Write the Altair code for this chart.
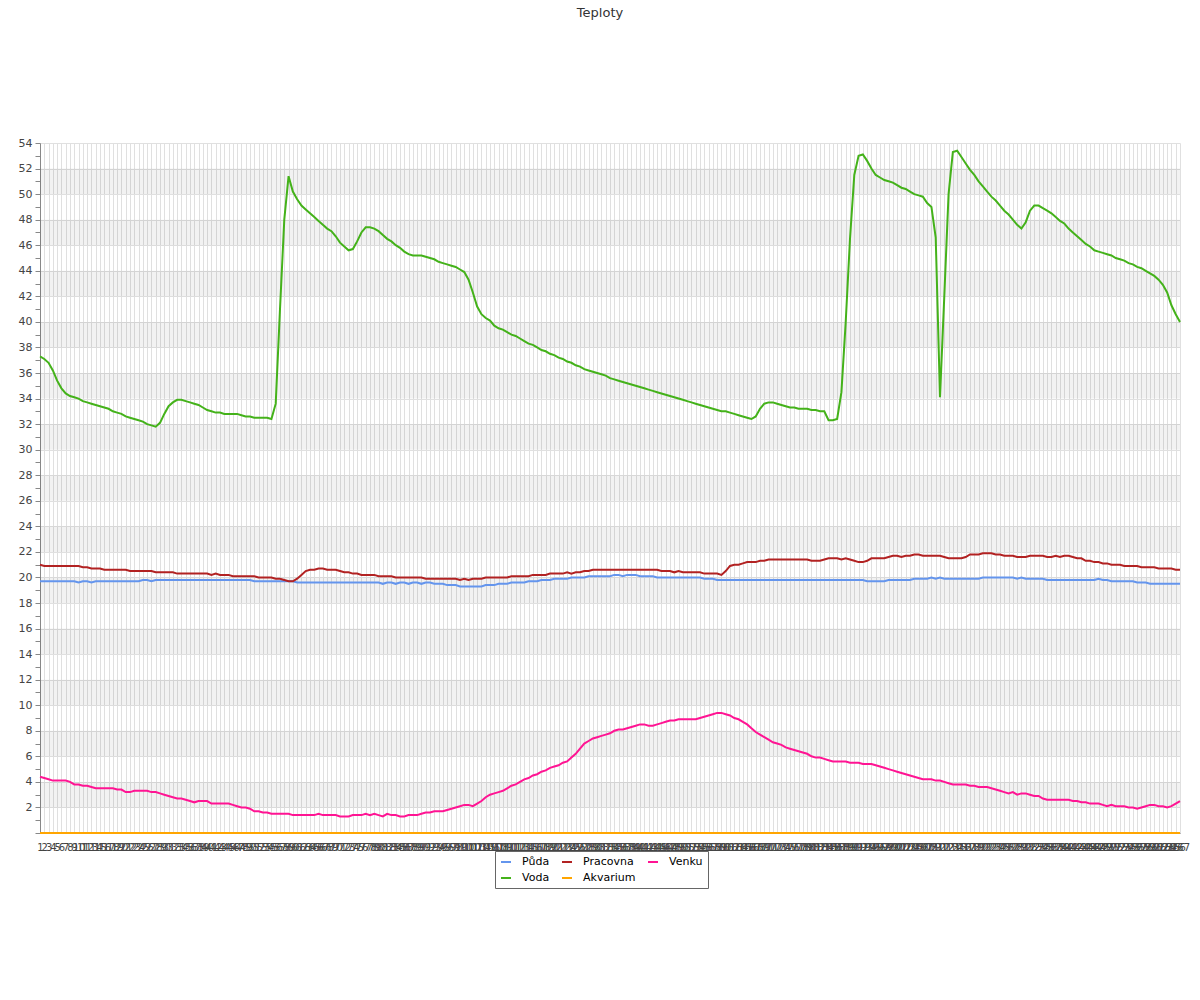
import altair as alt
import pandas as pd

series_names = ["Půda", "Voda", "Pracovna", "Akvarium", "Venku"]
legend_order = ["Půda", "Voda", "Pracovna", "Akvarium", "Venku"]
series_colors = {"Půda": "#6495ed", "Voda": "#44b21a", "Pracovna": "#b22222",
                 "Akvarium": "#ffa500", "Venku": "#ff1493"}

puda = [
    19.7, 19.7, 19.7, 19.7, 19.7, 19.7, 19.7, 19.7, 19.7, 19.6,
    19.7, 19.7, 19.6, 19.7, 19.7, 19.7, 19.7, 19.7, 19.7, 19.7,
    19.7, 19.7, 19.7, 19.7, 19.8, 19.8, 19.7, 19.8, 19.8, 19.8,
    19.8, 19.8, 19.8, 19.8, 19.8, 19.8, 19.8, 19.8, 19.8, 19.8,
    19.8, 19.8, 19.8, 19.8, 19.8, 19.8, 19.8, 19.8, 19.8, 19.8,
    19.7, 19.7, 19.7, 19.7, 19.7, 19.7, 19.7, 19.7, 19.7, 19.7,
    19.6, 19.6, 19.6, 19.6, 19.6, 19.6, 19.6, 19.6, 19.6, 19.6,
    19.6, 19.6, 19.6, 19.6, 19.6, 19.6, 19.6, 19.6, 19.6, 19.6,
    19.5, 19.6, 19.6, 19.5, 19.6, 19.6, 19.5, 19.6, 19.6, 19.5,
    19.6, 19.6, 19.5, 19.5, 19.5, 19.4, 19.4, 19.4, 19.3, 19.3,
    19.3, 19.3, 19.3, 19.3, 19.4, 19.4, 19.4, 19.5, 19.5, 19.5,
    19.6, 19.6, 19.6, 19.6, 19.7, 19.7, 19.7, 19.8, 19.8, 19.8,
    19.9, 19.9, 19.9, 19.9, 20.0, 20.0, 20.0, 20.0, 20.1, 20.1,
    20.1, 20.1, 20.1, 20.1, 20.2, 20.2, 20.1, 20.2, 20.2, 20.2,
    20.1, 20.1, 20.1, 20.1, 20.0, 20.0, 20.0, 20.0, 20.0, 20.0,
    20.0, 20.0, 20.0, 20.0, 20.0, 19.9, 19.9, 19.9, 19.8, 19.8,
    19.8, 19.8, 19.8, 19.8, 19.8, 19.8, 19.8, 19.8, 19.8, 19.8,
    19.8, 19.8, 19.8, 19.8, 19.8, 19.8, 19.8, 19.8, 19.8, 19.8,
    19.8, 19.8, 19.8, 19.8, 19.8, 19.8, 19.8, 19.8, 19.8, 19.8,
    19.8, 19.8, 19.8, 19.7, 19.7, 19.7, 19.7, 19.7, 19.8, 19.8,
    19.8, 19.8, 19.8, 19.8, 19.9, 19.9, 19.9, 19.9, 20.0, 19.9,
    20.0, 19.9, 19.9, 19.9, 19.9, 19.9, 19.9, 19.9, 19.9, 19.9,
    20.0, 20.0, 20.0, 20.0, 20.0, 20.0, 20.0, 20.0, 19.9, 20.0,
    19.9, 19.9, 19.9, 19.9, 19.9, 19.8, 19.8, 19.8, 19.8, 19.8,
    19.8, 19.8, 19.8, 19.8, 19.8, 19.8, 19.8, 19.9, 19.8, 19.8,
    19.7, 19.7, 19.7, 19.7, 19.7, 19.7, 19.6, 19.6, 19.6, 19.5,
    19.5, 19.5, 19.5, 19.5, 19.5, 19.5, 19.5,
]

voda = [
    37.3, 37.1, 36.8, 36.2, 35.4, 34.8, 34.4, 34.2, 34.1, 34.0,
    33.8, 33.7, 33.6, 33.5, 33.4, 33.3, 33.2, 33.0, 32.9, 32.8,
    32.6, 32.5, 32.4, 32.3, 32.2, 32.0, 31.9, 31.8, 32.1, 32.8,
    33.4, 33.7, 33.9, 33.9, 33.8, 33.7, 33.6, 33.5, 33.3, 33.1,
    33.0, 32.9, 32.9, 32.8, 32.8, 32.8, 32.8, 32.7, 32.6, 32.6,
    32.5, 32.5, 32.5, 32.5, 32.4, 33.6, 41.0, 48.0, 51.4, 50.2,
    49.6, 49.1, 48.8, 48.5, 48.2, 47.9, 47.6, 47.3, 47.1, 46.7,
    46.2, 45.9, 45.6, 45.7, 46.3, 47.0, 47.4, 47.4, 47.3, 47.1,
    46.8, 46.5, 46.3, 46.0, 45.8, 45.5, 45.3, 45.2, 45.2, 45.2,
    45.1, 45.0, 44.9, 44.7, 44.6, 44.5, 44.4, 44.3, 44.1, 43.9,
    43.3, 42.3, 41.2, 40.6, 40.3, 40.1, 39.7, 39.5, 39.4, 39.2,
    39.0, 38.9, 38.7, 38.5, 38.3, 38.2, 38.0, 37.8, 37.7, 37.5,
    37.4, 37.2, 37.1, 36.9, 36.8, 36.6, 36.5, 36.3, 36.2, 36.1,
    36.0, 35.9, 35.8, 35.6, 35.5, 35.4, 35.3, 35.2, 35.1, 35.0,
    34.9, 34.8, 34.7, 34.6, 34.5, 34.4, 34.3, 34.2, 34.1, 34.0,
    33.9, 33.8, 33.7, 33.6, 33.5, 33.4, 33.3, 33.2, 33.1, 33.0,
    33.0, 32.9, 32.8, 32.7, 32.6, 32.5, 32.4, 32.6, 33.2, 33.6,
    33.7, 33.7, 33.6, 33.5, 33.4, 33.3, 33.3, 33.2, 33.2, 33.2,
    33.1, 33.1, 33.0, 33.0, 32.3, 32.3, 32.4, 34.5, 40.0, 46.5,
    51.5, 53.0, 53.1, 52.6, 52.0, 51.5, 51.3, 51.1, 51.0, 50.9,
    50.7, 50.5, 50.4, 50.2, 50.0, 49.9, 49.8, 49.3, 49.0, 46.6,
    34.1, 42.0, 50.0, 53.3, 53.4, 52.9, 52.4, 51.9, 51.5, 51.0,
    50.6, 50.2, 49.8, 49.5, 49.1, 48.7, 48.4, 48.0, 47.6, 47.3,
    47.8, 48.7, 49.1, 49.1, 48.9, 48.7, 48.5, 48.2, 47.9, 47.7,
    47.3, 47.0, 46.7, 46.4, 46.1, 45.9, 45.6, 45.5, 45.4, 45.3,
    45.2, 45.0, 44.9, 44.8, 44.6, 44.5, 44.3, 44.2, 44.0, 43.8,
    43.6, 43.3, 42.9, 42.3, 41.3, 40.6, 40.0,
]

pracovna = [
    21.0, 20.9, 20.9, 20.9, 20.9, 20.9, 20.9, 20.9, 20.9, 20.9,
    20.8, 20.8, 20.7, 20.7, 20.7, 20.6, 20.6, 20.6, 20.6, 20.6,
    20.6, 20.5, 20.5, 20.5, 20.5, 20.5, 20.5, 20.4, 20.4, 20.4,
    20.4, 20.4, 20.3, 20.3, 20.3, 20.3, 20.3, 20.3, 20.3, 20.3,
    20.2, 20.3, 20.2, 20.2, 20.2, 20.1, 20.1, 20.1, 20.1, 20.1,
    20.1, 20.0, 20.0, 20.0, 20.0, 19.9, 19.9, 19.8, 19.7, 19.7,
    19.9, 20.2, 20.5, 20.6, 20.6, 20.7, 20.7, 20.6, 20.6, 20.6,
    20.5, 20.4, 20.4, 20.3, 20.3, 20.2, 20.2, 20.2, 20.2, 20.1,
    20.1, 20.1, 20.1, 20.0, 20.0, 20.0, 20.0, 20.0, 20.0, 20.0,
    19.9, 19.9, 19.9, 19.9, 19.9, 19.9, 19.9, 19.9, 19.8, 19.9,
    19.8, 19.9, 19.9, 19.9, 20.0, 20.0, 20.0, 20.0, 20.0, 20.0,
    20.1, 20.1, 20.1, 20.1, 20.1, 20.2, 20.2, 20.2, 20.2, 20.3,
    20.3, 20.3, 20.3, 20.4, 20.3, 20.4, 20.4, 20.5, 20.5, 20.6,
    20.6, 20.6, 20.6, 20.6, 20.6, 20.6, 20.6, 20.6, 20.6, 20.6,
    20.6, 20.6, 20.6, 20.6, 20.6, 20.5, 20.5, 20.5, 20.4, 20.5,
    20.4, 20.4, 20.4, 20.4, 20.4, 20.3, 20.3, 20.3, 20.3, 20.2,
    20.5, 20.9, 21.0, 21.0, 21.1, 21.2, 21.2, 21.2, 21.3, 21.3,
    21.4, 21.4, 21.4, 21.4, 21.4, 21.4, 21.4, 21.4, 21.4, 21.4,
    21.3, 21.3, 21.3, 21.4, 21.5, 21.5, 21.5, 21.4, 21.5, 21.4,
    21.3, 21.2, 21.2, 21.3, 21.5, 21.5, 21.5, 21.5, 21.6, 21.7,
    21.7, 21.6, 21.7, 21.7, 21.8, 21.8, 21.7, 21.7, 21.7, 21.7,
    21.7, 21.6, 21.5, 21.5, 21.5, 21.5, 21.6, 21.8, 21.8, 21.8,
    21.9, 21.9, 21.9, 21.8, 21.8, 21.7, 21.7, 21.7, 21.6, 21.6,
    21.6, 21.7, 21.7, 21.7, 21.7, 21.6, 21.6, 21.7, 21.6, 21.7,
    21.7, 21.6, 21.5, 21.5, 21.3, 21.3, 21.2, 21.2, 21.1, 21.1,
    21.0, 21.0, 21.0, 20.9, 20.9, 20.9, 20.9, 20.8, 20.8, 20.8,
    20.8, 20.7, 20.7, 20.7, 20.7, 20.6, 20.6,
]

akvarium = [
    0, 0, 0, 0, 0, 0, 0, 0, 0, 0, 0, 0, 0, 0, 0, 0, 0, 0, 0, 0,
    0, 0, 0, 0, 0, 0, 0, 0, 0, 0, 0, 0, 0, 0, 0, 0, 0, 0, 0, 0,
    0, 0, 0, 0, 0, 0, 0, 0, 0, 0, 0, 0, 0, 0, 0, 0, 0, 0, 0, 0,
    0, 0, 0, 0, 0, 0, 0, 0, 0, 0, 0, 0, 0, 0, 0, 0, 0, 0, 0, 0,
    0, 0, 0, 0, 0, 0, 0, 0, 0, 0, 0, 0, 0, 0, 0, 0, 0, 0, 0, 0,
    0, 0, 0, 0, 0, 0, 0, 0, 0, 0, 0, 0, 0, 0, 0, 0, 0, 0, 0, 0,
    0, 0, 0, 0, 0, 0, 0, 0, 0, 0, 0, 0, 0, 0, 0, 0, 0, 0, 0, 0,
    0, 0, 0, 0, 0, 0, 0, 0, 0, 0, 0, 0, 0, 0, 0, 0, 0, 0, 0, 0,
    0, 0, 0, 0, 0, 0, 0, 0, 0, 0, 0, 0, 0, 0, 0, 0, 0, 0, 0, 0,
    0, 0, 0, 0, 0, 0, 0, 0, 0, 0, 0, 0, 0, 0, 0, 0, 0, 0, 0, 0,
    0, 0, 0, 0, 0, 0, 0, 0, 0, 0, 0, 0, 0, 0, 0, 0, 0, 0, 0, 0,
    0, 0, 0, 0, 0, 0, 0, 0, 0, 0, 0, 0, 0, 0, 0, 0, 0, 0, 0, 0,
    0, 0, 0, 0, 0, 0, 0, 0, 0, 0, 0, 0, 0, 0, 0, 0, 0, 0, 0, 0,
    0, 0, 0, 0, 0, 0, 0,
]

venku = [
    4.4, 4.3, 4.2, 4.1, 4.1, 4.1, 4.1, 4.0, 3.8, 3.8,
    3.7, 3.7, 3.6, 3.5, 3.5, 3.5, 3.5, 3.5, 3.4, 3.4,
    3.2, 3.2, 3.3, 3.3, 3.3, 3.3, 3.2, 3.2, 3.1, 3.0,
    2.9, 2.8, 2.7, 2.7, 2.6, 2.5, 2.4, 2.5, 2.5, 2.5,
    2.3, 2.3, 2.3, 2.3, 2.3, 2.2, 2.1, 2.0, 2.0, 1.9,
    1.7, 1.7, 1.6, 1.6, 1.5, 1.5, 1.5, 1.5, 1.5, 1.4,
    1.4, 1.4, 1.4, 1.4, 1.4, 1.5, 1.4, 1.4, 1.4, 1.4,
    1.3, 1.3, 1.3, 1.4, 1.4, 1.4, 1.5, 1.4, 1.5, 1.4,
    1.3, 1.5, 1.4, 1.4, 1.3, 1.3, 1.4, 1.4, 1.4, 1.5,
    1.6, 1.6, 1.7, 1.7, 1.7, 1.8, 1.9, 2.0, 2.1, 2.2,
    2.2, 2.1, 2.3, 2.5, 2.8, 3.0, 3.1, 3.2, 3.3, 3.5,
    3.7, 3.8, 4.0, 4.2, 4.3, 4.5, 4.6, 4.8, 4.9, 5.1,
    5.2, 5.3, 5.5, 5.6, 5.9, 6.2, 6.6, 7.0, 7.2, 7.4,
    7.5, 7.6, 7.7, 7.8, 8.0, 8.1, 8.1, 8.2, 8.3, 8.4,
    8.5, 8.5, 8.4, 8.4, 8.5, 8.6, 8.7, 8.8, 8.8, 8.9,
    8.9, 8.9, 8.9, 8.9, 9.0, 9.1, 9.2, 9.3, 9.4, 9.4,
    9.3, 9.2, 9.0, 8.9, 8.7, 8.5, 8.2, 7.9, 7.7, 7.5,
    7.3, 7.1, 7.0, 6.9, 6.7, 6.6, 6.5, 6.4, 6.3, 6.2,
    6.0, 5.9, 5.9, 5.8, 5.7, 5.6, 5.6, 5.6, 5.6, 5.5,
    5.5, 5.5, 5.4, 5.4, 5.4, 5.3, 5.2, 5.1, 5.0, 4.9,
    4.8, 4.7, 4.6, 4.5, 4.4, 4.3, 4.2, 4.2, 4.2, 4.1,
    4.1, 4.0, 3.9, 3.8, 3.8, 3.8, 3.8, 3.7, 3.7, 3.6,
    3.6, 3.6, 3.5, 3.4, 3.3, 3.2, 3.1, 3.2, 3.0, 3.1,
    3.1, 3.0, 2.9, 2.9, 2.7, 2.6, 2.6, 2.6, 2.6, 2.6,
    2.6, 2.5, 2.5, 2.4, 2.4, 2.3, 2.3, 2.3, 2.2, 2.1,
    2.2, 2.1, 2.1, 2.1, 2.0, 2.0, 1.9, 2.0, 2.1, 2.2,
    2.2, 2.1, 2.1, 2.0, 2.1, 2.3, 2.5,
]

series_values = {"Půda": puda, "Voda": voda, "Pracovna": pracovna,
                 "Akvarium": akvarium, "Venku": venku}
n_points = len(voda)
for name, vals in series_values.items():
    assert len(vals) == n_points, (name, len(vals))

y_ticks = list(range(0, 55))
band_low = [2, 6, 10, 14, 18, 22, 26, 30, 34, 38, 42, 46, 50]

rows = []
for s_i, name in enumerate(series_names):
    for i, v in enumerate(series_values[name]):
        rows.append({"x": i + 1, "series": name, "value": v, "order": s_i})
df = pd.DataFrame(rows)
bands = pd.DataFrame({"lo": band_low, "hi": [b + 2 for b in band_low]})

W, H = 1140, 690
FONT = "DejaVu Sans"

yscale = alt.Scale(domain=[0, 54], nice=False, zero=False)
y_axis = alt.Axis(title=None, values=y_ticks, labelOverlap=False,
                  labelExpr="datum.value % 2 === 0 && datum.value > 0 ? datum.label : ''",
                  labelFontSize=11, labelColor="#444444", labelFont=FONT,
                  tickSize=5, tickColor="#888888", domainColor="#888888",
                  labelPadding=3, grid=True, gridColor="#e0e0e0",
                  gridOpacity={"condition": {"test": "datum.value % 2 === 0", "value": 1}, "value": 0})

band_layer = alt.Chart(bands).mark_rect(color="#000000", opacity=0.05).encode(
    y=alt.Y("lo:Q", scale=yscale, axis=y_axis),
    y2="hi:Q",
    x=alt.value(0),
    x2=alt.value(W),
)

lines = alt.Chart(df).mark_line(strokeWidth=2, interpolate="linear").encode(
    x=alt.X("x:O", scale=alt.Scale(type="point", padding=0),
            axis=alt.Axis(title=None, labelAngle=0, labelOverlap=False,
                          labelFontSize=10, labelColor="#444444", labelFont=FONT,
                          labelPadding=9, ticks=False, grid=True,
                          gridColor="#e0e0e0", gridWidth=1,
                          domainColor="#888888", labelBound=False,
                          labelFlush=False)),
    y=alt.Y("value:Q", scale=yscale, axis=y_axis),
    color=alt.Color("series:N",
                    scale=alt.Scale(domain=legend_order,
                                    range=[series_colors[s] for s in legend_order]),
                    legend=alt.Legend(title=None, orient="none", legendX=455, legendY=708,
                                      columns=3, symbolType="stroke", symbolSize=100,
                                      symbolStrokeWidth=2, labelFontSize=11,
                                      labelFont=FONT, labelColor="#000000",
                                      labelOffset=10, columnPadding=8, rowPadding=5,
                                      padding=5, strokeColor="#666666",
                                      fillColor="#ffffff")),
    detail="series:N",
    order=alt.Order("x:Q"),
)

chart = alt.layer(band_layer, lines).properties(
    width=W, height=H,
    title=alt.TitleParams("Teploty", font=FONT, fontSize=13, fontWeight="normal",
                          color="#333333", offset=117, anchor="middle", dx=-10),
    autosize=alt.AutoSizeParams(type="none"),
    padding={"left": 32, "top": 135, "right": 10, "bottom": 100},
).configure_view(stroke=None)

chart.save("out.html", embed_options={"renderer": "svg", "actions": False})
